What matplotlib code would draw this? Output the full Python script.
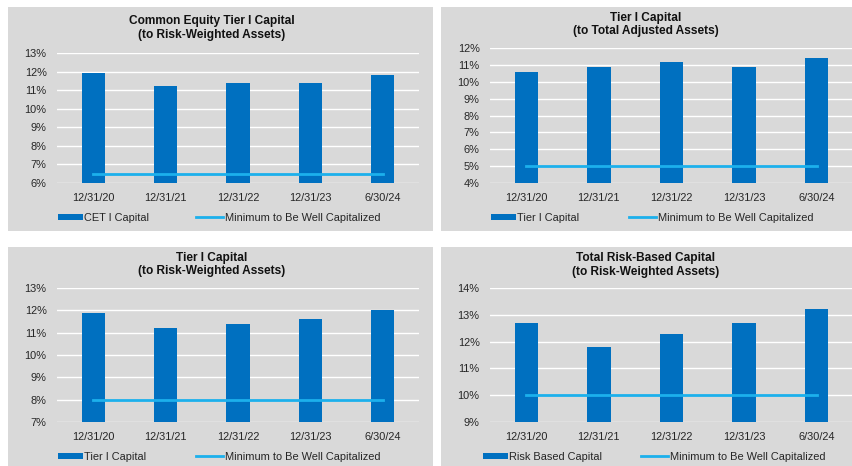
import matplotlib
matplotlib.use("Agg")
import matplotlib.pyplot as plt
from matplotlib.patches import Rectangle, Patch
from matplotlib.lines import Line2D
from matplotlib.ticker import FuncFormatter

plt.rcParams["font.family"] = ["Liberation Sans", "DejaVu Sans"]

DATES = ["12/31/20", "12/31/21", "12/31/22", "12/31/23", "6/30/24"]

cet1Ratio = [11.9, 11.2, 11.4, 11.4, 11.8]
tier1Leverage = [10.6, 10.9, 11.2, 10.9, 11.4]
tier1Ratio = [11.9, 11.2, 11.4, 11.6, 12.0]
totalRbcRatio = [12.7, 11.8, 12.3, 12.7, 13.2]

cet1Minimum = 6.5
leverageMinimum = 5.0
tier1Minimum = 8.0
totalRbcMinimum = 10.0

BAR_COLOR = "#0070C0"
LINE_COLOR = "#1CB0EC"
BG_COLOR = "#D9D9D9"
TEXT_COLOR = "#262626"
FONT_SIZE = 7.9

W, H = 853, 466


def __fx(px):
    return px / W


def __fy(py):
    return 1 - py / H


def drawPanel(fig, box, axBox, title, titleX, titleY, values, minimum, yLim,
              barLabel, legendPos):
    """Draw one capital ratio panel

    Args:
        box (tuple): panel x0, y0, x1, y1 in pixels (top origin)
        axBox (tuple): plot area x0, y0, x1, y1 in pixels (top origin)
    """
    x0, y0, x1, y1 = box
    fig.add_artist(Rectangle((__fx(x0), __fy(y1)), __fx(x1 - x0), (y1 - y0) / H,
                             transform=fig.transFigure, facecolor=BG_COLOR,
                             edgecolor="none", zorder=0))

    ax0, ay0, ax1, ay1 = axBox
    ax = fig.add_axes([__fx(ax0), __fy(ay1), __fx(ax1 - ax0), (ay1 - ay0) / H])
    ax.set_facecolor("none")

    xs = list(range(len(DATES)))
    ax.bar(xs, values, width=0.32, color=BAR_COLOR, zorder=2)
    ax.plot(xs, [minimum] * len(xs), color=LINE_COLOR, linewidth=2.0, zorder=3)

    ax.set_xlim(-0.5, len(DATES) - 0.5)
    ax.set_ylim(*yLim)
    ax.set_yticks(range(yLim[0], yLim[1] + 1))
    ax.yaxis.set_major_formatter(FuncFormatter(lambda v, _: f"{v:.0f}%"))
    ax.set_xticks(xs)
    ax.set_xticklabels(DATES)
    ax.grid(axis="y", color="white", linewidth=1.0, zorder=1)
    ax.set_axisbelow(True)
    for s in ax.spines.values():
        s.set_visible(False)
    ax.tick_params(axis="both", length=0, labelsize=FONT_SIZE, colors=TEXT_COLOR)
    ax.tick_params(axis="y", pad=7.5)
    ax.tick_params(axis="x", pad=7.5)

    fig.text(__fx(titleX), __fy(titleY), title, ha="center", va="center",
             fontsize=8.6, fontweight="bold", color="#111111", linespacing=1.2)

    barX, lineX, legY = legendPos
    leg1 = ax.legend([Patch(facecolor=BAR_COLOR)], [barLabel], loc="center left",
                     bbox_to_anchor=(__fx(barX), __fy(legY)),
                     bbox_transform=fig.transFigure, frameon=False, fontsize=FONT_SIZE,
                     handlelength=2.3, handleheight=0.55, handletextpad=0.1,
                     borderpad=0, borderaxespad=0, labelcolor=TEXT_COLOR)
    ax.add_artist(leg1)
    ax.legend([Line2D([0], [0], color=LINE_COLOR, linewidth=2.0)],
              ["Minimum to Be Well Capitalized"], loc="center left",
              bbox_to_anchor=(__fx(lineX), __fy(legY)),
              bbox_transform=fig.transFigure, frameon=False, fontsize=FONT_SIZE,
              handlelength=2.5, handletextpad=0.1, borderpad=0,
              borderaxespad=0, labelcolor=TEXT_COLOR)
    return ax


fig = plt.figure(figsize=(W / 100, H / 100), dpi=100)

drawPanel(fig, (8, 7, 433, 231), (57, 53, 419, 183),
          "Common Equity Tier I Capital\n(to Risk-Weighted Assets)", 212, 28,
          cet1Ratio, cet1Minimum, (6, 13), "CET I Capital", (58, 196, 218))

drawPanel(fig, (441, 7, 853, 231), (490, 48, 853, 183),
          "Tier I Capital\n(to Total Adjusted Assets)", 646, 24.5,
          tier1Leverage, leverageMinimum, (4, 12), "Tier I Capital", (491, 629, 218))

drawPanel(fig, (8, 247, 433, 466), (57, 288, 419, 422),
          "Tier I Capital\n(to Risk-Weighted Assets)", 212, 264.5,
          tier1Ratio, tier1Minimum, (7, 13), "Tier I Capital", (58, 196, 457))

drawPanel(fig, (441, 247, 853, 466), (490, 288, 853, 422),
          "Total Risk-Based Capital\n(to Risk-Weighted Assets)", 646, 265,
          totalRbcRatio, totalRbcMinimum, (9, 14), "Risk Based Capital", (483, 641, 457))

fig.savefig("out.png", dpi=100)
